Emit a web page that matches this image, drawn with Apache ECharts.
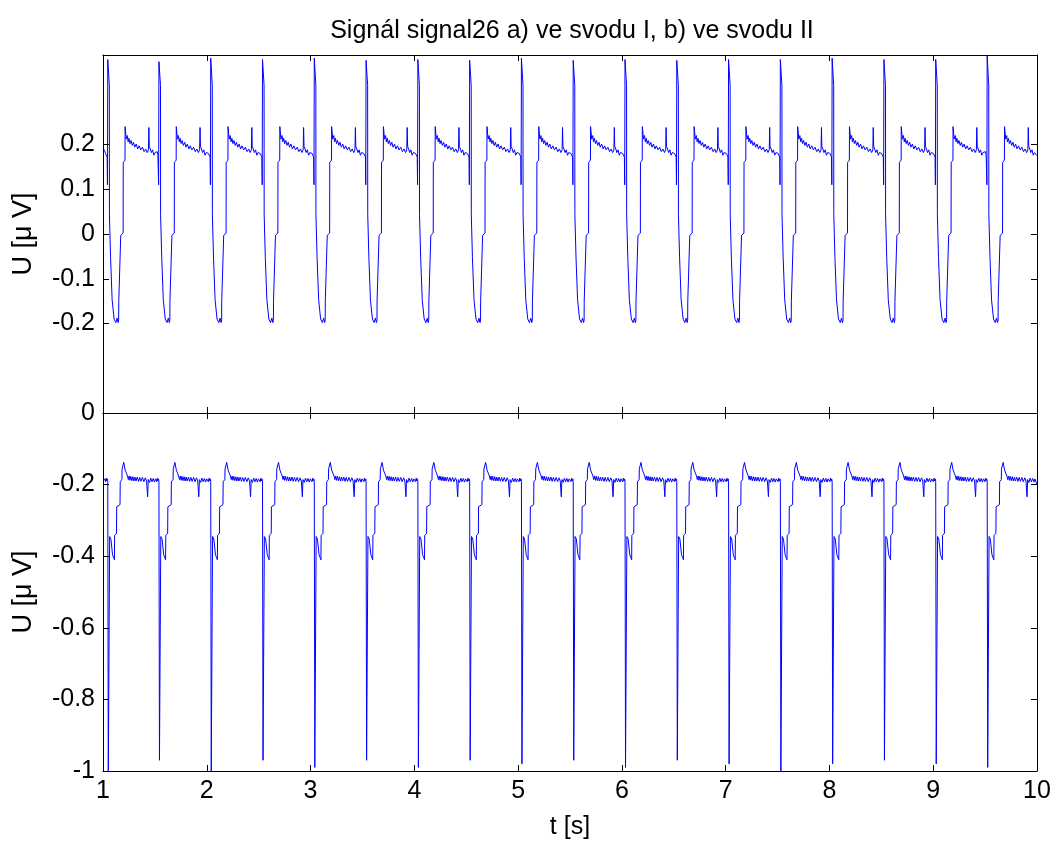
<!DOCTYPE html>
<html>
<head>
<meta charset="utf-8">
<title>signal26</title>
<script src="https://cdn.jsdelivr.net/npm/echarts@6/dist/echarts.min.js"></script>
<style>
  html, body { margin: 0; padding: 0; background: #fff; }
  #chart { width: 1054px; height: 843px; }
</style>
</head>
<body>
<div id="chart"></div>
<script>
// casy vrcholu jednotlivych stahu [s]
const peakTimes = [1.046, 1.539, 2.038, 2.537, 3.036, 3.535, 4.034, 4.533, 5.032,
  5.531, 6.030, 6.529, 7.028, 7.527, 8.026, 8.525, 9.024, 9.520];
// vyska vrcholu ve svodu I
const peakI = [0.39, 0.385, 0.393, 0.39, 0.393, 0.388, 0.39, 0.388, 0.393,
  0.388, 0.39, 0.388, 0.39, 0.39, 0.393, 0.39, 0.39, 0.398];
// minimum ve svodu II
const minII = [-1.02, -0.97, -1.0, -0.97, -0.99, -0.97, -0.99, -0.97, -0.98,
  -0.97, -0.99, -0.97, -0.98, -1.01, -0.98, -0.97, -0.98, -0.99];

// tvar jednoho stahu - svod I: [posun od vrcholu s, U]
const beatI = [
  [-0.030, 0.186], [-0.022, 0.180], [-0.016, 0.184], [-0.010, 0.176], [-0.006, 0.172],
  [-0.003, 0.110], [0.000, 'P'], [0.015, 0.332], [0.016, 0.043], [0.026, 0.040],
  [0.027, -0.053], [0.041, -0.056], [0.042, -0.147], [0.060, -0.150], [0.061, -0.190],
  [0.078, -0.198], [0.090, -0.188], [0.100, -0.198], [0.105, -0.192], [0.106, -0.150],
  [0.124, -0.148], [0.125, -0.003], [0.148, 0.002], [0.149, 0.160], [0.166, 0.165],
  [0.167, 0.240], [0.176, 0.238], [0.178, 0.212], [0.188, 0.220], [0.196, 0.206],
  [0.204, 0.214], [0.214, 0.202], [0.224, 0.209], [0.236, 0.198], [0.248, 0.205],
  [0.260, 0.194], [0.274, 0.201], [0.288, 0.190], [0.302, 0.197], [0.318, 0.188],
  [0.334, 0.194], [0.350, 0.184], [0.366, 0.190], [0.380, 0.182], [0.392, 0.188],
  [0.396, 0.238], [0.400, 0.196], [0.410, 0.190], [0.420, 0.182], [0.432, 0.188],
  [0.444, 0.176], [0.456, 0.182]
];
// tvar jednoho stahu - svod II
const beatII = [
  [-0.030, -0.184], [-0.022, -0.192], [-0.016, -0.182], [-0.010, -0.190], [-0.004, -0.184],
  [0.000, -0.192], [0.005, 'M'], [0.013, 'M'], [0.018, -0.345], [0.030, -0.352],
  [0.046, -0.396], [0.056, -0.404], [0.064, -0.410], [0.066, -0.342], [0.084, -0.336],
  [0.086, -0.262], [0.118, -0.256], [0.120, -0.192], [0.136, -0.186], [0.138, -0.156],
  [0.150, -0.152], [0.154, -0.138], [0.162, -0.142], [0.168, -0.160], [0.182, -0.170],
  [0.190, -0.176], [0.198, -0.186], [0.206, -0.176], [0.214, -0.188], [0.222, -0.177],
  [0.232, -0.189], [0.242, -0.178], [0.252, -0.190], [0.262, -0.179], [0.272, -0.190],
  [0.284, -0.179], [0.296, -0.191], [0.308, -0.180], [0.320, -0.191], [0.334, -0.180],
  [0.348, -0.192], [0.362, -0.181], [0.374, -0.190], [0.384, -0.234], [0.390, -0.186],
  [0.402, -0.194], [0.414, -0.182], [0.426, -0.192], [0.438, -0.183], [0.450, -0.193],
  [0.460, -0.184]
];

const tStart = 1, tEnd = 10;
const startI = 0.192, endI = 0.175;
const startII = -0.190, endII = -0.200;

// poskladani signalu ze stahu
function buildSignal(beat, special, v0, v1) {
  const out = [[tStart, v0]];
  peakTimes.forEach(function (tp, i) {
    beat.forEach(function (p) {
      const t = +(tp + p[0]).toFixed(4);
      if (t <= tStart || t >= tEnd) return;
      const v = typeof p[1] === 'string' ? special[i] : p[1];
      out.push([t, v]);
    });
  });
  out.push([tEnd, v1]);
  return out;
}

const sigI = buildSignal(beatI, peakI, startI, endI);
const sigII = buildSignal(beatII, minII, startII, endII);

const yTicksI = [-0.2, -0.1, 0, 0.1, 0.2];
const yTicksII = [-1, -0.8, -0.6, -0.4, -0.2, 0];

const font = 'Liberation Sans, Arial, sans-serif';
const fs = 25;
const tick = { show: true, inside: true, length: 6, lineStyle: { color: '#000' } };

function xAx(grid, pos, labels) {
  return {
    type: 'value', gridIndex: grid, position: pos, min: 1, max: 10, interval: 1,
    axisLine: { show: true, onZero: false, lineStyle: { color: '#000' } },
    axisTick: tick,
    splitLine: { show: false },
    axisLabel: { show: labels, color: '#000', fontSize: fs, fontFamily: font, margin: 8 },
    name: labels ? 't [s]' : '', nameLocation: 'middle', nameGap: 44,
    nameTextStyle: { color: '#000', fontSize: fs, fontFamily: font }
  };
}
function yAx(grid, pos, min, max, ticks, labels) {
  return {
    type: 'value', gridIndex: grid, position: pos, min: min, max: max,
    axisLine: { show: true, onZero: false, lineStyle: { color: '#000' } },
    axisTick: Object.assign({ customValues: ticks }, tick),
    splitLine: { show: false },
    axisLabel: { show: labels, customValues: ticks, color: '#000', fontSize: fs, fontFamily: font, margin: 8 },
    name: labels ? 'U [\u03bc V]' : '', nameLocation: 'middle', nameGap: 66,
    nameTextStyle: { color: '#000', fontSize: 27, fontFamily: font }
  };
}

const chart = echarts.init(document.getElementById('chart'));
chart.setOption({
  backgroundColor: '#fff',
  animation: false,
  title: {
    text: 'Sign\u00e1l signal26 a) ve svodu I, b) ve svodu II',
    left: 567, top: 14, textAlign: 'center',
    textStyle: { color: '#000', fontSize: 25, fontWeight: 'normal', fontFamily: font }
  },
  grid: [
    { left: 103, right: 17, top: 55, height: 358 },
    { left: 103, right: 17, top: 413, height: 358 }
  ],
  xAxis: [xAx(0, 'bottom', false), xAx(0, 'top', false), xAx(1, 'bottom', true), xAx(1, 'top', false)],
  yAxis: [
    yAx(0, 'left', -0.4, 0.4, yTicksI, true), yAx(0, 'right', -0.4, 0.4, yTicksI, false),
    yAx(1, 'left', -1, 0, yTicksII, true), yAx(1, 'right', -1, 0, yTicksII, false)
  ],
  series: [
    { type: 'line', xAxisIndex: 0, yAxisIndex: 0, data: sigI, showSymbol: false,
      lineStyle: { color: '#0000ff', width: 1 }, clip: true },
    { type: 'line', xAxisIndex: 2, yAxisIndex: 2, data: sigII, showSymbol: false,
      lineStyle: { color: '#0000ff', width: 1 }, clip: true }
  ]
});
</script>
</body>
</html>
